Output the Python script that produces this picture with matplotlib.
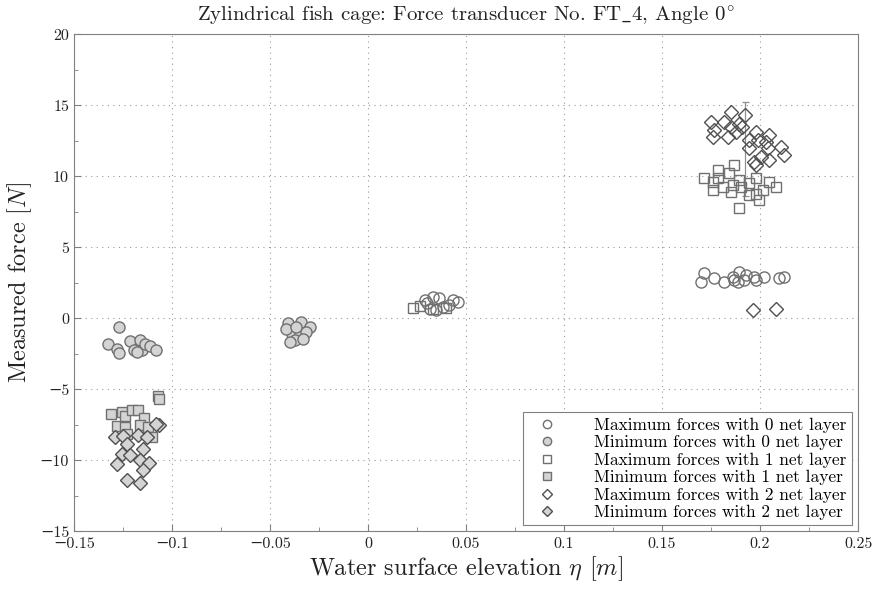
import matplotlib
matplotlib.use("Agg")
import matplotlib.pyplot as plt
from matplotlib.ticker import MultipleLocator

plt.rcParams['font.family'] = ['cmr10', 'DejaVu Serif']
plt.rcParams['mathtext.fontset'] = 'cm'
plt.rcParams['axes.formatter.use_mathtext'] = True
plt.rcParams['axes.unicode_minus'] = True

# ---- data ----
max0_x = [0.1716, 0.1699, 0.1767, 0.1818, 0.1860, 0.1894, 0.1886, 0.1928, 0.1920, 0.1971, 0.1980, 0.2022,
          0.2098, 0.2124, 0.1869,
          0.0331, 0.0289, 0.0365, 0.0433, 0.0459, 0.0382, 0.0348, 0.0314, 0.0416, 0.0300]
max0_y = [3.15, 2.56, 2.80, 2.56, 2.91, 3.26, 2.56, 3.03, 2.68, 2.91, 2.68, 2.91,
          2.80, 2.87, 2.68,
          1.50, 1.27, 1.39, 1.27, 1.15, 0.80, 0.56, 0.68, 0.92, 1.05]
min0_x = [-0.1269, -0.1325, -0.1280, -0.1269, -0.1215, -0.1194, -0.1164, -0.1155, -0.1138, -0.1113,
          -0.1080, -0.1180,
          -0.0408, -0.0340, -0.0297, -0.0390, -0.0348, -0.0314, -0.0374, -0.0331, -0.0416, -0.0365, -0.0399]
min0_y = [-0.61, -1.78, -2.20, -2.44, -1.60, -2.25, -1.55, -2.25, -1.78, -1.97,
          -2.25, -2.37,
          -0.37, -0.26, -0.61, -1.08, -1.08, -0.96, -1.55, -1.43, -0.73, -0.61, -1.67]
max1_x = [0.1784, 0.1869, 0.1843, 0.1716, 0.1758, 0.1784, 0.1810, 0.1758, 0.1852, 0.1861, 0.1903,
          0.1894, 0.1946, 0.1946, 0.1980, 0.1997, 0.2013, 0.1980, 0.2047, 0.2081, 0.1894,
          0.0229, 0.0263, 0.0400, 0.0330]
max1_y = [10.42, 10.77, 10.19, 9.84, 9.60, 9.84, 9.25, 9.01, 8.89, 9.37, 9.25,
          9.72, 9.49, 8.66, 8.78, 8.31, 9.01, 9.84, 9.60, 9.25, 7.73,
          0.72, 0.85, 0.70, 0.62]
min1_x = [-0.1070, -0.1065, -0.1310, -0.1257, -0.1240, -0.1206, -0.1172, -0.1143, -0.1282, -0.1240,
          -0.1164, -0.1121, -0.1104, -0.1230]
min1_y = [-5.47, -5.70, -6.76, -6.60, -6.90, -6.48, -6.48, -7.00, -7.60, -7.65,
          -7.54, -7.65, -8.36, -8.12]
max2_x = [0.1852, 0.1925, 0.1750, 0.1818, 0.1894, 0.1767, 0.1852, 0.1910, 0.1758, 0.1835, 0.1877,
          0.1980, 0.1946, 0.2047, 0.1988, 0.2030, 0.1946, 0.2039, 0.2107, 0.2124, 0.2005, 0.1971,
          0.2047, 0.1980, 0.1962, 0.2081]
max2_y = [14.53, 14.30, 13.82, 13.82, 13.71, 13.24, 13.47, 13.47, 12.77, 12.77, 13.12,
          13.12, 12.54, 12.89, 12.54, 12.42, 11.95, 11.95, 12.06, 11.48, 11.36, 11.01,
          11.13, 10.77, 0.61, 0.68]
min2_x = [-0.1065, -0.1080, -0.1290, -0.1249, -0.1231, -0.1172, -0.1126, -0.1150, -0.1257, -0.1215,
          -0.1280, -0.1164, -0.1116, -0.1147, -0.1231, -0.1164]
min2_y = [-7.54, -7.42, -8.36, -8.31, -8.87, -8.24, -8.36, -9.18, -9.53, -9.65,
          -10.23, -10.00, -10.19, -10.70, -11.41, -11.60]
err_x = [0.1925]
err_lo = [8.6]
err_hi = [15.2]

labels = ["Maximum forces with 0 net layer", "Minimum forces with 0 net layer",
          "Maximum forces with 1 net layer", "Minimum forces with 1 net layer",
          "Maximum forces with 2 net layer", "Minimum forces with 2 net layer"]

fig = plt.figure(figsize=(8.8, 5.89), dpi=100)
ax = fig.add_axes([0.084, 0.098, 0.891, 0.844])

edge = '#707070'
fill = '#d4d4d4'
ax.vlines(err_x, err_lo, err_hi, color='#909090', lw=0.9, zorder=2)
ax.hlines(err_hi + err_lo, [x - 0.0018 for x in err_x * 2], [x + 0.0018 for x in err_x * 2],
          color='#909090', lw=0.9, zorder=2)

ax.plot(max0_x, max0_y, 'o', ms=8, mfc='none', mec=edge, mew=1.0, ls='none', label=labels[0], zorder=3)
ax.plot(min0_x, min0_y, 'o', ms=8, mfc=fill, mec=edge, mew=1.0, ls='none', label=labels[1], zorder=3)
ax.plot(max1_x, max1_y, 's', ms=7, mfc='none', mec=edge, mew=1.0, ls='none', label=labels[2], zorder=3)
ax.plot(min1_x, min1_y, 's', ms=7, mfc=fill, mec=edge, mew=1.0, ls='none', label=labels[3], zorder=3)
ax.plot(max2_x, max2_y, 'D', ms=7, mfc='none', mec='#505050', mew=1.0, ls='none', label=labels[4], zorder=3)
ax.plot(min2_x, min2_y, 'D', ms=7, mfc=fill, mec='#505050', mew=1.0, ls='none', label=labels[5], zorder=3)

ax.set_xlim(-0.15, 0.25)
ax.set_ylim(-15, 20)
ax.xaxis.set_minor_locator(MultipleLocator(0.025))
ax.yaxis.set_minor_locator(MultipleLocator(2.5))
ax.set_xticks([-0.15, -0.1, -0.05, 0, 0.05, 0.1, 0.15, 0.2, 0.25])
ax.set_xticklabels(['−0.15', '−0.1', '−0.05', '0', '0.05', '0.1', '0.15', '0.2', '0.25'])
ax.set_yticks([-15, -10, -5, 0, 5, 10, 15, 20])
ax.set_yticklabels(['−15', '−10', '−5', '0', '5', '10', '15', '20'])
ax.tick_params(which='both', direction='in', colors='#808080', labelcolor='#222222', labelsize=11.5)
ax.tick_params(which='major', length=5)
ax.tick_params(which='minor', length=3)
ax.tick_params(axis='x', pad=4)
for s in ax.spines.values():
    s.set_color('#808080')
ax.grid(True, which='major', ls=(0, (1, 4)), color='#999999', lw=0.8)

ax.set_title(r"Zylindrical fish cage: Force transducer No. FT$\_$4, Angle $0^{\!\circ}$", fontsize=15,
             color='#222222', pad=9)
ax.set_xlabel(r"Water surface elevation $\eta$ [$m$]", fontsize=17.5, color='#222222', labelpad=3)
ax.set_ylabel(r"Measured force [$N$]", fontsize=17.5, color='#222222', labelpad=4)

leg = ax.legend(loc='lower right', fontsize=12.5, markerscale=0.75, fancybox=False, framealpha=1,
                edgecolor='#808080', borderaxespad=0.35, handletextpad=1.6, labelspacing=0.12,
                borderpad=0.3, handlelength=2.2)
leg.get_frame().set_linewidth(0.8)

fig.savefig('out.png', dpi=100)
